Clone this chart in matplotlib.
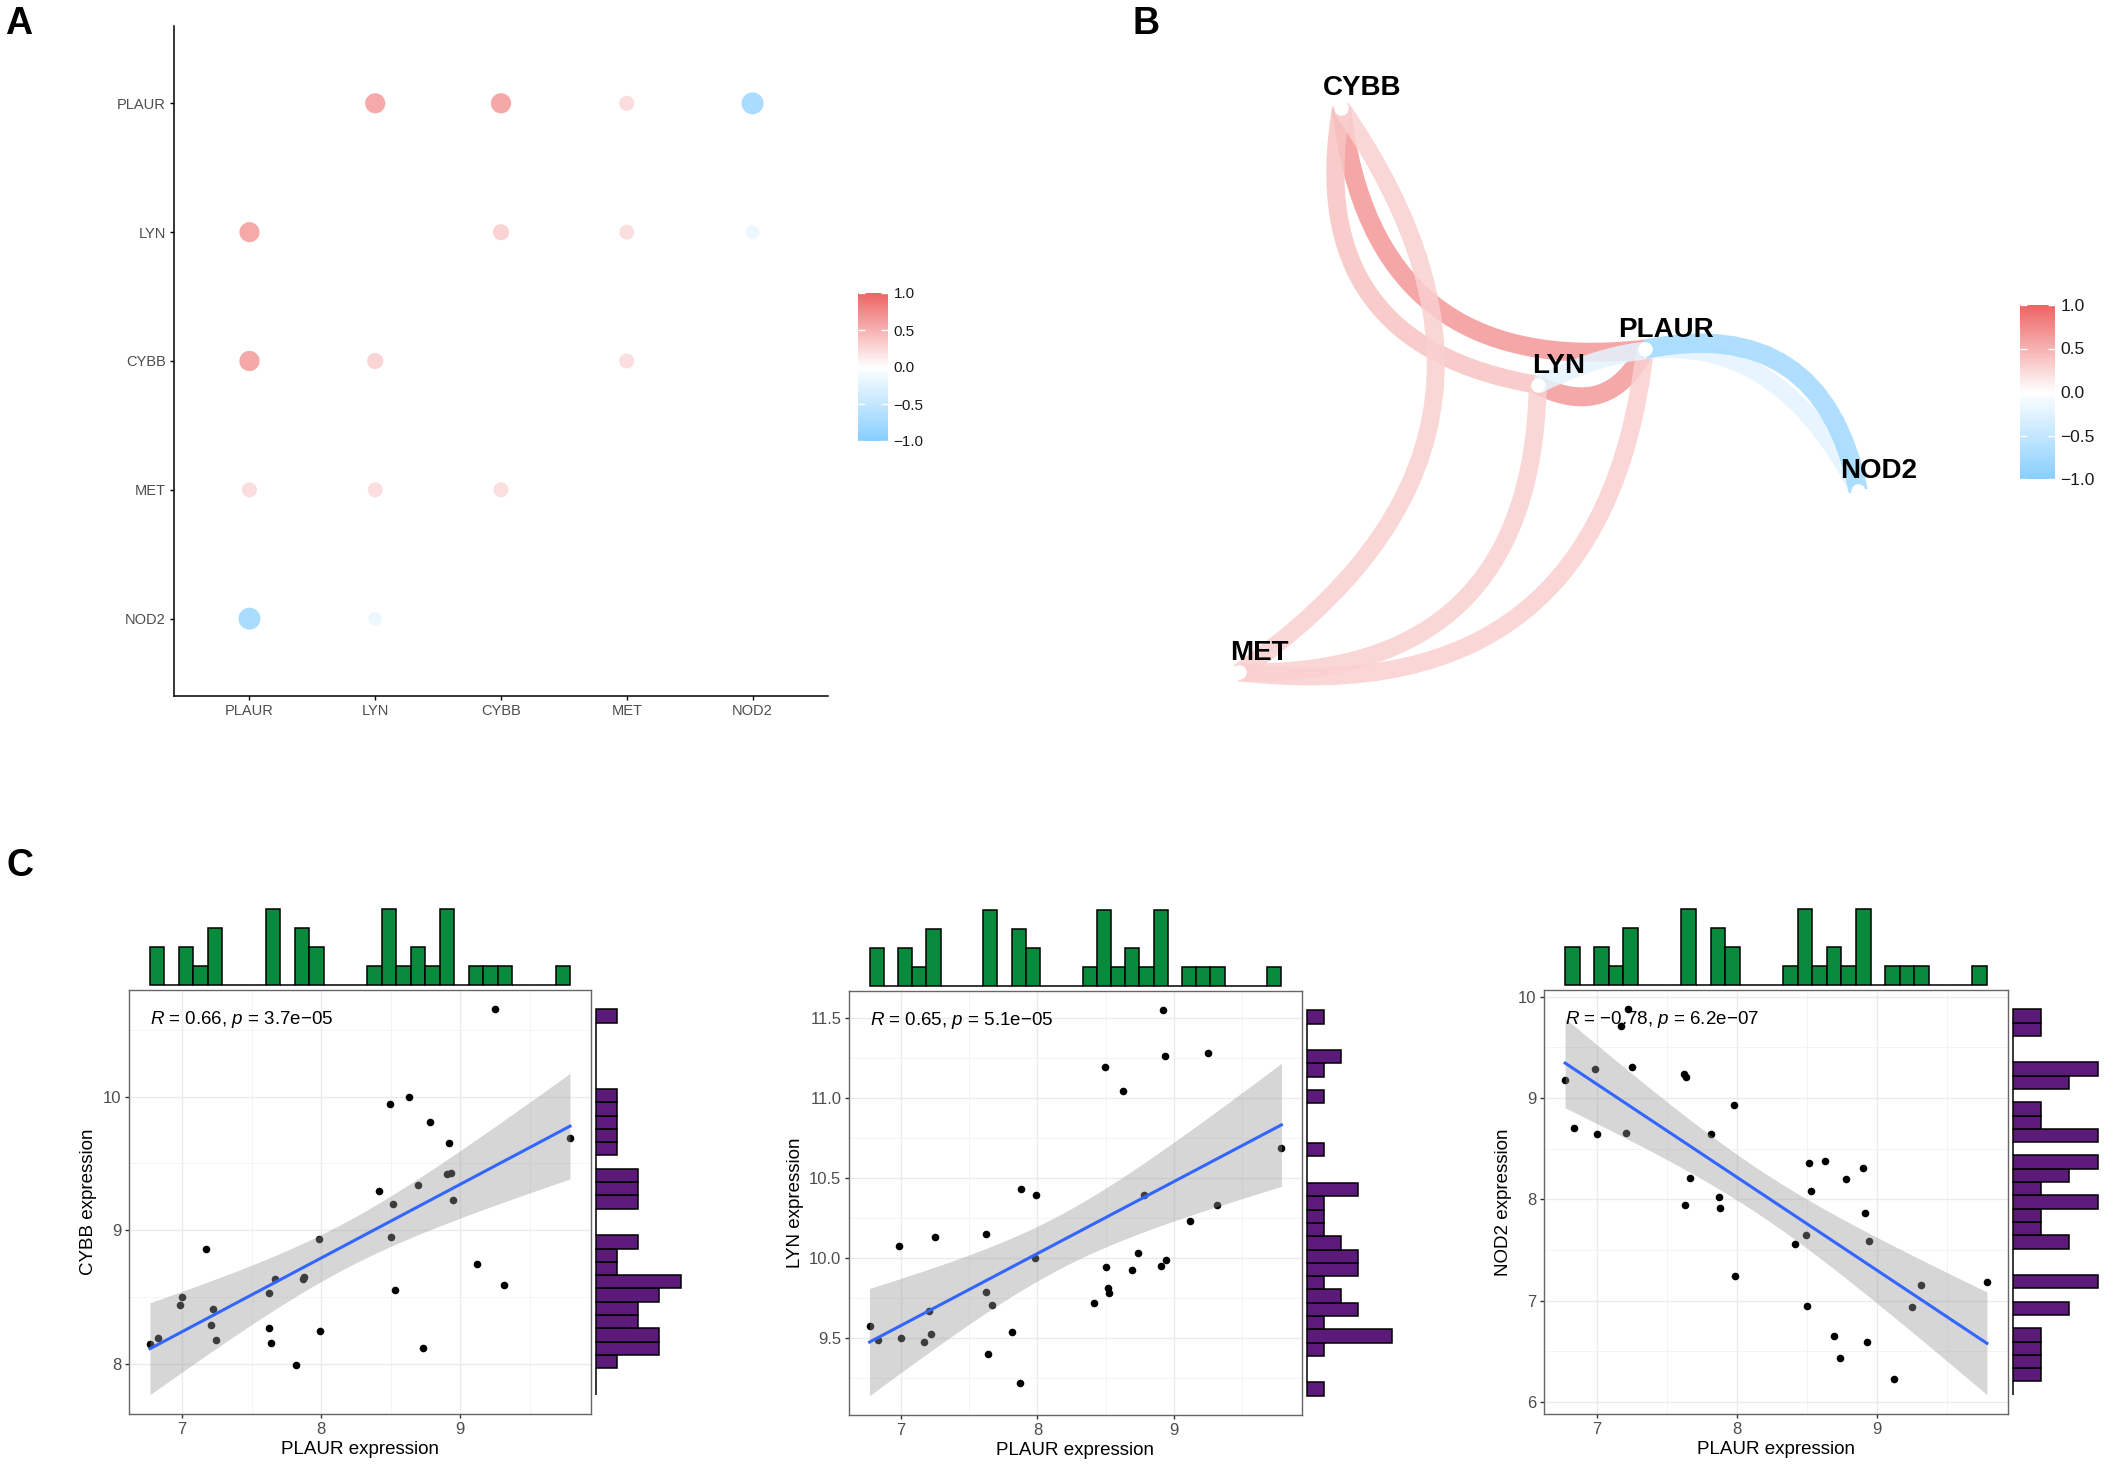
import numpy as np
import matplotlib
matplotlib.use('Agg')
import matplotlib.pyplot as plt
from matplotlib.colors import LinearSegmentedColormap, Normalize
from matplotlib.patches import FancyArrowPatch
from matplotlib.ticker import MultipleLocator

plt.rcParams['font.family'] = ['Liberation Sans', 'DejaVu Sans']
plt.rcParams['mathtext.fontset'] = 'custom'
plt.rcParams['mathtext.rm'] = 'Liberation Sans'
plt.rcParams['mathtext.it'] = 'Liberation Sans:italic'

W, H = 2111, 1470

# ---- panel A / B: correlation matrix ----
genes = ['PLAUR', 'LYN', 'CYBB', 'MET', 'NOD2']
nan = np.nan
cor_plaur = [nan, 0.65, 0.66, 0.31, -0.78]
cor_lyn = [0.65, nan, 0.38, 0.30, -0.22]
cor_cybb = [0.66, 0.38, nan, 0.30, nan]
cor_met = [0.31, 0.30, 0.30, nan, nan]
cor_nod2 = [-0.78, -0.22, nan, nan, nan]
cor_rows = [cor_plaur, cor_lyn, cor_cybb, cor_met, cor_nod2]

# network layout (MDS coordinates)
node_x = [0.632, 0.483, 0.210, 0.068, 0.928]
node_y = [0.557, 0.500, 0.940, 0.044, 0.332]
edge_from = ['PLAUR', 'LYN', 'CYBB', 'PLAUR', 'LYN', 'PLAUR', 'LYN', 'PLAUR']
edge_to = ['CYBB', 'CYBB', 'MET', 'LYN', 'MET', 'MET', 'NOD2', 'NOD2']

# ---- panel C: expression values ----
plaur = [6.770, 6.831, 6.984, 6.997, 7.172, 7.207, 7.223, 7.246, 7.622, 7.625,
         7.638, 7.667, 7.817, 7.871, 7.877, 7.982, 7.989, 8.413, 8.493, 8.499,
         8.518, 8.528, 8.630, 8.694, 8.735, 8.783, 8.904, 8.917, 8.933, 8.945,
         9.121, 9.250, 9.316, 9.788]
cybb = [8.150, 8.192, 8.437, 8.503, 8.862, 8.293, 8.407, 8.180, 8.269, 8.530,
        8.156, 8.635, 7.991, 8.635, 8.647, 8.937, 8.249, 9.293, 9.946, 8.946,
        9.195, 8.551, 10.000, 9.335, 8.120, 9.808, 9.419, 9.653, 9.431, 9.225,
        8.749, 10.653, 8.590, 9.692]
lyn = [9.573, 9.483, 10.075, 9.495, 9.473, 9.668, 9.525, 10.132, 10.150, 9.783,
       9.398, 9.705, 9.533, 9.218, 10.427, 10.000, 10.392, 9.715, 11.192, 9.943,
       9.813, 9.780, 11.040, 9.925, 10.027, 10.392, 9.950, 11.546, 11.259, 9.985,
       10.232, 11.277, 10.330, 10.684]
nod2 = [9.178, 8.708, 9.288, 8.649, 9.707, 8.656, 9.877, 9.304, 9.237, 7.942,
        9.213, 8.210, 8.641, 8.021, 7.914, 8.929, 7.247, 7.563, 7.653, 6.951,
        8.356, 8.080, 8.376, 6.647, 6.433, 8.206, 8.309, 7.867, 6.591, 7.594,
        6.224, 6.939, 7.152, 7.184]
cor_labels = [r'$\it{R}$ = 0.66, $\it{p}$ = 3.7e−05',
              r'$\it{R}$ = 0.65, $\it{p}$ = 5.1e−05',
              r'$\it{R}$ = −0.78, $\it{p}$ = 6.2e−07']

cmap = LinearSegmentedColormap.from_list('corr', ['#87CEFF', '#FFFFFF', '#EE6363'])
norm = Normalize(-1, 1)


def px_rect(x0, y0, x1, y1):
    return [x0 / W, 1 - y1 / H, (x1 - x0) / W, (y1 - y0) / H]


def corr_colour(r, a0, slope):
    c = list(cmap(norm(r)))
    c[3] = min(1.0, a0 + slope * abs(r))
    return tuple(c)


def add_colorbar(fig, rect, size):
    cax = fig.add_axes(px_rect(*rect))
    sm = plt.cm.ScalarMappable(norm=norm, cmap=cmap)
    cb = fig.colorbar(sm, cax=cax, ticks=[-1, -0.5, 0, 0.5, 1])
    cb.outline.set_visible(False)
    cb.ax.set_yticklabels(['−1.0', '−0.5', '0.0', '0.5', '1.0'])
    cb.ax.tick_params(direction='in', length=5, width=1, color='white',
                      left=True, right=True, labelleft=False, labelright=True,
                      labelsize=size, labelcolor='#1a1a1a', pad=4)


fig = plt.figure(figsize=(W / 100, H / 100), dpi=100)

# ---------------- A: correlation dot plot ----------------
axA = fig.add_axes(px_rect(174, 26, 828, 696))
xs, ys, ss, cs = [], [], [], []
for i, row in enumerate(cor_rows):
    for j, r in enumerate(row):
        if np.isnan(r):
            continue
        xs.append(j + 1)
        ys.append(len(genes) - i)
        d = (10.6 + 14.6 * abs(r)) * 0.72
        ss.append(d ** 2)
        cs.append(corr_colour(r, 0.55, 0.45))
axA.scatter(xs, ys, s=ss, c=cs, linewidths=0)
axA.set_xlim(0.4, 5.6)
axA.set_ylim(0.4, 5.6)
axA.set_xticks(range(1, 6))
axA.set_xticklabels(genes)
axA.set_yticks(range(1, 6))
axA.set_yticklabels(genes[::-1])
for side in ['top', 'right']:
    axA.spines[side].set_visible(False)
for side in ['left', 'bottom']:
    axA.spines[side].set_linewidth(1.1)
axA.tick_params(length=3, width=1, labelsize=10.5, labelcolor='#4D4D4D', pad=3)
add_colorbar(fig, (858, 293, 888, 441), 11)

# ---------------- B: network plot ----------------
axB = fig.add_axes(px_rect(1190, 70, 1910, 700))
axB.set_xlim(0, 1)
axB.set_ylim(0, 1)
axB.axis('off')
for a, b in zip(edge_from, edge_to):
    i, j = genes.index(a), genes.index(b)
    r = cor_rows[i][j]
    patch = FancyArrowPatch((node_x[i], node_y[i]), (node_x[j], node_y[j]),
                            arrowstyle='-', connectionstyle='arc3,rad=-0.5',
                            lw=(17 + 3 * abs(r)) * 0.72, color=corr_colour(r, 0.85, 0.0),
                            shrinkA=0, shrinkB=0, capstyle='butt')
    axB.add_patch(patch)
axB.scatter(node_x, node_y, s=110, c='white', linewidths=0, zorder=3)
for g, x, y in zip(genes, node_x, node_y):
    axB.annotate(g, (x, y), xytext=(15, 14), textcoords='offset points',
                 ha='center', va='center', fontsize=20, fontweight='bold', zorder=4)
add_colorbar(fig, (2020, 305, 2055, 479), 12.5)

# ---------------- C: scatter plots with marginal histograms ----------------
green = '#078A3C'
purple = '#5C1A7A'


def marginal_panel(x, y, rect, ylabel, yticks, yfmt, label):
    x = np.asarray(x)
    y = np.asarray(y)
    n = len(x)
    slope, icpt = np.polyfit(x, y, 1)
    resid = y - (slope * x + icpt)
    s = np.sqrt(np.sum(resid ** 2) / (n - 2))
    xg = np.linspace(x.min(), x.max(), 80)
    fit = slope * xg + icpt
    se = s * np.sqrt(1 / n + (xg - x.mean()) ** 2 / np.sum((x - x.mean()) ** 2))
    lo, hi = fit - 2.037 * se, fit + 2.037 * se

    xr = (x.min(), x.max())
    yr = (min(y.min(), lo.min()), max(y.max(), hi.max()))
    xlim = (xr[0] - 0.05 * (xr[1] - xr[0]), xr[1] + 0.05 * (xr[1] - xr[0]))
    ylim = (yr[0] - 0.05 * (yr[1] - yr[0]), yr[1] + 0.05 * (yr[1] - yr[0]))

    x0, y0, x1, y1 = rect
    ax = fig.add_axes(px_rect(x0, y0, x1, y1))
    ax.scatter(x, y, s=30, c='black', linewidths=0, zorder=2)
    ax.fill_between(xg, lo, hi, color='#999999', alpha=0.4, linewidth=0, zorder=3)
    ax.plot(xg, fit, color='#3366FF', lw=2.2, zorder=4)
    ax.text(xr[0], y.max(), label, ha='left', va='top', fontsize=13.5, zorder=5)
    ax.set_xlim(xlim)
    ax.set_ylim(ylim)
    ax.set_xticks([7, 8, 9])
    ax.set_yticks(yticks)
    ax.set_yticklabels([yfmt.format(t) for t in yticks])
    ax.xaxis.set_minor_locator(MultipleLocator(0.5))
    ax.yaxis.set_minor_locator(MultipleLocator((yticks[1] - yticks[0]) / 2))
    ax.grid(which='major', color='#EBEBEB', lw=1.0)
    ax.grid(which='minor', color='#F2F2F2', lw=0.6)
    ax.set_axisbelow(True)
    for sp in ax.spines.values():
        sp.set_color('#666666')
        sp.set_linewidth(1.0)
    ax.tick_params(which='major', length=3, width=1, color='#333333',
                   labelsize=12, labelcolor='#4D4D4D', pad=2.5)
    ax.tick_params(which='minor', length=0)
    ax.set_xlabel('PLAUR expression', fontsize=13.5, labelpad=3)
    ax.set_ylabel(ylabel, fontsize=13.5, labelpad=4)

    # top histogram
    cx, ex = np.histogram(x, bins=29, range=xr)
    axt = fig.add_axes(px_rect(x0, y0 - 86, x1, y0 - 3))
    axt.bar(ex[:-1], cx, width=np.diff(ex), align='edge', color=green,
            edgecolor='black', linewidth=1.1)
    axt.set_xlim(xlim)
    axt.set_ylim(-0.03 * cx.max(), 1.07 * cx.max())
    axt.axis('off')

    # right histogram
    cy, ey = np.histogram(y, bins=29, range=yr)
    axr = fig.add_axes(px_rect(x1 + 2.5, y0, x1 + 95.5, y1))
    axr.barh(ey[:-1], cy, height=np.diff(ey), align='edge', color=purple,
             edgecolor='black', linewidth=1.1)
    axr.set_ylim(ylim)
    axr.set_xlim(-0.03 * cy.max(), 1.07 * cy.max())
    axr.axis('off')


marginal_panel(plaur, cybb, (129, 990, 591, 1414), 'CYBB expression',
               [8, 9, 10], '{:.0f}', cor_labels[0])
marginal_panel(plaur, lyn, (849, 991, 1302, 1415), 'LYN expression',
               [9.5, 10.0, 10.5, 11.0, 11.5], '{:.1f}', cor_labels[1])
marginal_panel(plaur, nod2, (1544, 990, 2008, 1414), 'NOD2 expression',
               [6, 7, 8, 9, 10], '{:.0f}', cor_labels[2])

# panel letters
for letter, px, py in [('A', 19, 24), ('B', 1146, 24), ('C', 20, 866)]:
    fig.text(px / W, 1 - py / H, letter, fontsize=27, fontweight='bold',
             ha='center', va='center')

fig.savefig('out.png', dpi=100)
